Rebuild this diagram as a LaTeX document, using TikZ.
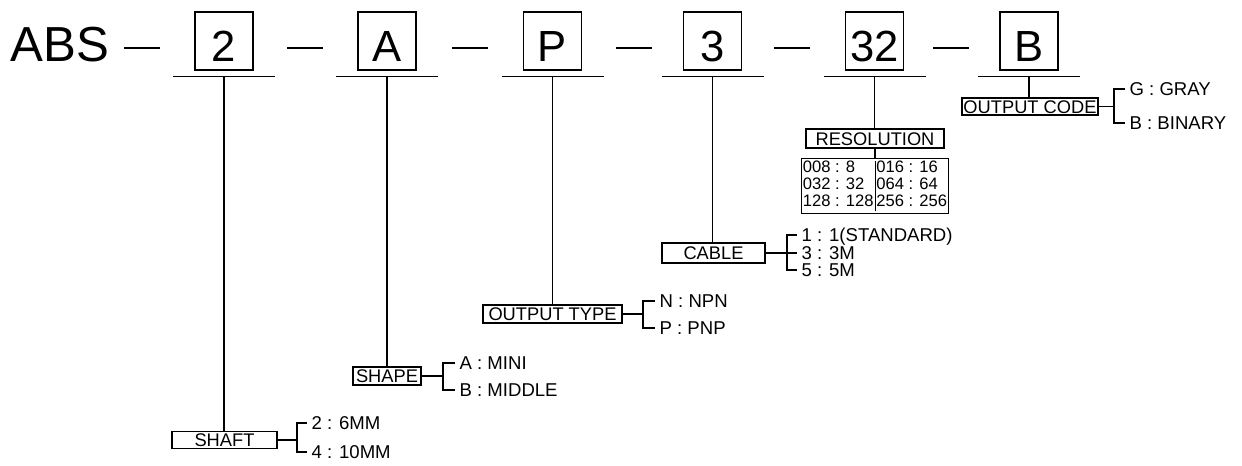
\documentclass[tikz,border=0pt]{standalone}
\usepackage{fontspec}
\setmainfont{Liberation Sans}
\usetikzlibrary{calc}

\begin{document}
\begin{tikzpicture}[x=0.025cm,y=-0.025cm,line width=0.9pt,
	code/.style={draw,minimum width=1.45cm,minimum height=1.45cm,inner sep=0pt,font=\fontsize{31}{31}\selectfont,text height=29.4pt,text depth=0pt},
	lbl/.style={draw,inner sep=0pt,minimum height=0.425cm,font=\fontsize{13}{15}\selectfont,text height=9.3pt,text depth=0pt},
	opt/.style={anchor=west,inner xsep=0.1cm,inner ysep=0pt,font=\fontsize{13.2}{15}\selectfont,text height=9.45pt,text depth=0pt}]
	\useasboundingbox (0,0) rectangle (1242,466);
	% Typenschluessel
	\node[font=\fontsize{35}{35}\selectfont,inner sep=0pt,anchor=base] (abs) at (60,62) {ABS};
	\node[code] (c2) at (224,41) {2};
	\node[code] (cA) at (387,41) {A};
	\node[code] (cP) at (552.5,41) {P};
	\node[code] (c3) at (712.5,41) {3};
	\node[code] (c32) at (874.5,41) {32};
	\node[code] (cB) at (1029,41) {B};
	% Striche
	\foreach \x in {142,305,470,634,792,951}
		\draw (\x-18,48) -- (\x+18,48);
	% Unterstriche
	\foreach \c in {c2,cA,cP,c3,c32,cB} {
		\draw ($(\c.south)+(-51,6)$) -- ++(102,0);
		\coordinate (u\c) at ($(\c.south)+(0,6)$);
	}
	% Beschriftungen
	\node[lbl,minimum width=2.625cm] (shaft) at (224.5,440) {SHAFT};
	\node[lbl,minimum width=1.7cm,minimum height=0.45cm] (shape) at (387,376) {SHAPE};
	\node[lbl,minimum width=3.475cm,minimum height=0.45cm] (otype) at (552.5,314) {OUTPUT TYPE};
	\node[lbl,minimum width=2.575cm,minimum height=0.5cm] (cable) at (713.5,253) {CABLE};
	\node[lbl,minimum width=3.45cm,minimum height=0.475cm] (resol) at (875,138.5) {RESOLUTION};
	\node[lbl,minimum width=3.4cm] (ocode) at (1030,106.5) {OUTPUT CODE};
	\node[draw,inner xsep=0pt,inner ysep=1.5pt,anchor=north,font=\fontsize{11.8}{12}\selectfont] (restab) at (875,158)
		{\setlength\tabcolsep{1pt}\begin{tabular}{l|l}008 : 8&016 : 16\\032 : 32&064 : 64\\128 : 128&256 : 256\end{tabular}};
	% Verbindungen
	\draw (uc2) -- (uc2 |- shaft.north);
	\draw (ucA) -- (ucA |- shape.north);
	\draw (ucP) -- (ucP |- otype.north);
	\draw (uc3) -- (uc3 |- cable.north);
	\draw (uc32) -- (uc32 |- resol.north);
	\draw (resol.south) -- (resol.south |- restab.north);
	\draw (ucB) -- (ucB |- ocode.north);
	% Auswahl
	\node[opt] (s6) at (307,423) {2 : 6MM};
	\node[opt] (s10) at (307,452) {4 : 10MM};
	\draw (shaft.east) -- ++(20,0);
	\draw (s6.west) -- ++(-10,0) |- (s10.west);
	\node[opt] (mini) at (455,363) {A : MINI};
	\node[opt] (middle) at (455,390) {B : MIDDLE};
	\draw (shape.east) -- ++(22,0);
	\draw (mini.west) -- ++(-12,0) |- (middle.west);
	\node[opt] (npn) at (655,301) {N : NPN};
	\node[opt] (pnp) at (655,328) {P : PNP};
	\draw (otype.east) -- ++(21,0);
	\draw (npn.west) -- ++(-12,0) |- (pnp.west);
	\node[opt] (m1) at (797,235) {1 : 1(STANDARD)};
	\node[opt] (m3) at (797,253) {3 : 3M};
	\node[opt] (m5) at (797,270) {5 : 5M};
	\draw (cable.east) -- (m3.west);
	\draw (m1.west) -- ++(-10,0) |- (m5.west);
	\node[opt] (gray) at (1125,89) {G : GRAY};
	\node[opt] (binary) at (1125,123) {B : BINARY};
	\draw (ocode.east) -- ++(14,0);
	\draw (gray.west) -- ++(-11,0) |- (binary.west);
\end{tikzpicture}
\end{document}
